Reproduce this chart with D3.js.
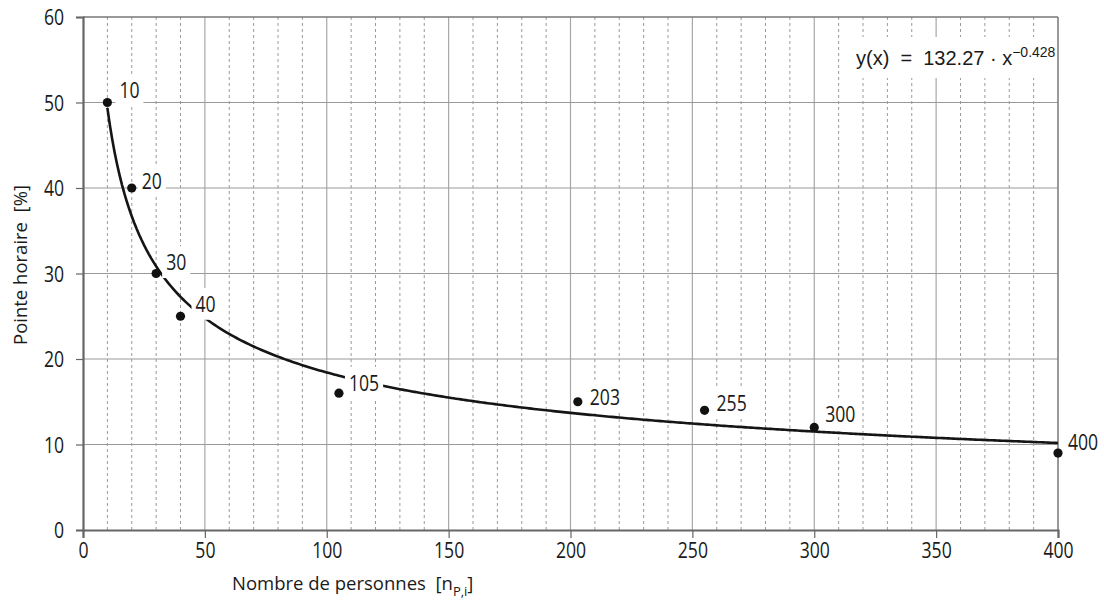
<!DOCTYPE html>
<html>
<head>
<meta charset="utf-8">
<script src="https://cdn.jsdelivr.net/npm/d3@7"></script>
<style>
  body { margin: 0; background: #fff; }
  svg { display: block; font-family: "Open Sans", "Noto Sans", sans-serif; }
</style>
</head>
<body>
<div id="chart"></div>
<script>
// data
const persons = [10, 20, 30, 40, 105, 203, 255, 300, 400];
const peak = [50, 40, 30, 25, 16, 15, 14, 12, 9];
const pointLabels = ['10', '20', '30', '40', '105', '203', '255', '300', '400'];
const xTicks = [0, 50, 100, 150, 200, 250, 300, 350, 400];
const yTicks = [0, 10, 20, 30, 40, 50, 60];
const fitA = 132.27, fitB = -0.428;

// label placement relative to each point (pixels)
const labelDx = [12, 10, 10, 15, 10, 12, 12, 11, 10];
const labelDy = [-12, -7, -11, -12, -10, -5, -7, -13, -11];

const W = 1104, H = 613;
const m = {left: 83, right: 46, top: 17, bottom: 83};
const iw = W - m.left - m.right, ih = H - m.top - m.bottom;
const NARROW = 0.8;   // digits in the original are condensed

const x = d3.scaleLinear().domain([0, 400]).range([0, iw]);
const y = d3.scaleLinear().domain([0, 60]).range([ih, 0]);

const svg = d3.select('#chart').append('svg')
    .attr('width', W).attr('height', H);
const g = svg.append('g').attr('transform', `translate(${m.left},${m.top})`);

// minor dotted verticals every 10
g.append('g').selectAll('line')
    .data(d3.range(10, 400, 10).filter(v => v % 50 !== 0))
  .enter().append('line')
    .attr('x1', d => x(d)).attr('x2', d => x(d))
    .attr('y1', 0).attr('y2', ih)
    .attr('stroke', '#9a9a9a').attr('stroke-width', 1)
    .attr('stroke-dasharray', '3,3');

// major verticals
g.append('g').selectAll('line')
    .data(xTicks.slice(1, -1))
  .enter().append('line')
    .attr('x1', d => x(d)).attr('x2', d => x(d))
    .attr('y1', 0).attr('y2', ih)
    .attr('stroke', '#a8a8a8').attr('stroke-width', 1.2);

// horizontals
g.append('g').selectAll('line')
    .data(yTicks.slice(1, -1))
  .enter().append('line')
    .attr('x1', 0).attr('x2', iw)
    .attr('y1', d => y(d)).attr('y2', d => y(d))
    .attr('stroke', '#999').attr('stroke-width', 1.2);

// frame top / right
g.append('line').attr('x1', 0).attr('x2', iw).attr('y1', 0).attr('y2', 0)
    .attr('stroke', '#777').attr('stroke-width', 1.5);
g.append('line').attr('x1', iw).attr('x2', iw).attr('y1', 0).attr('y2', ih)
    .attr('stroke', '#777').attr('stroke-width', 1.5);

// axes
const xAxis = g.append('g').attr('transform', `translate(0,${ih})`)
    .call(d3.axisBottom(x).tickValues(xTicks).tickSize(8).tickPadding(4));
const yAxis = g.append('g')
    .call(d3.axisLeft(y).tickValues(yTicks).tickSize(7).tickPadding(12));
[xAxis, yAxis].forEach(a => {
    a.select('.domain').attr('stroke', '#666').attr('stroke-width', 2.2);
    a.selectAll('.tick line').attr('stroke', '#666').attr('stroke-width', 1.2);
    a.selectAll('.tick text').attr('fill', '#1a1a1a')
        .attr('font-size', 22).attr('font-family', '"Open Sans", sans-serif')
        .attr('transform', `scale(${NARROW},1)`);
});
xAxis.selectAll('.tick line').attr('y1', 0);
yAxis.selectAll('.tick text').attr('dy', '0.36em').attr('x', -19 / NARROW);

// fitted curve
const curvePts = d3.range(10, 400.5, 1).map(v => [v, fitA * Math.pow(v, fitB)]);
g.append('path')
    .datum(curvePts)
    .attr('fill', 'none').attr('stroke', '#151515').attr('stroke-width', 2.6)
    .attr('d', d3.line().x(d => x(d[0])).y(d => y(d[1])));

// point labels with white knock-out
const lab = g.append('g').selectAll('g')
    .data(persons)
  .enter().append('g')
    .attr('transform', (d, i) => `translate(${x(d) + labelDx[i]},${y(peak[i]) + labelDy[i]}) scale(${NARROW},1)`);
lab.append('rect').attr('fill', '#fff');
lab.append('text')
    .attr('dy', '0.36em')
    .attr('font-size', 22).attr('fill', '#1a1a1a')
    .text((d, i) => pointLabels[i]);
lab.each(function() {
    const t = d3.select(this).select('text').node().getBBox();
    d3.select(this).select('rect')
        .attr('x', t.x - 5).attr('y', t.y - 1)
        .attr('width', t.width + 10).attr('height', t.height + 2);
});

// points
g.append('g').selectAll('circle')
    .data(persons)
  .enter().append('circle')
    .attr('cx', d => x(d)).attr('cy', (d, i) => y(peak[i]))
    .attr('r', 4.6).attr('fill', '#111');

// equation box
const eq = g.append('g').attr('transform', `translate(${iw - 213},20)`);
eq.append('rect').attr('width', 211).attr('height', 41).attr('fill', '#fff');
const eqText = eq.append('text')
    .attr('x', 11).attr('y', 28)
    .attr('font-family', '"Liberation Sans Narrow", "Liberation Sans", Arial, sans-serif')
    .attr('font-size', 20).attr('fill', '#1a1a1a')
    .style('white-space', 'pre');
eqText.append('tspan').text('y(x)  =  132.27 \u00b7 x');
eqText.append('tspan').attr('dy', -8).attr('font-size', 14).text('\u22120.428');

// axis titles
svg.append('text')
    .attr('transform', `translate(27,265) rotate(-90)`)
    .attr('text-anchor', 'middle')
    .attr('font-size', 18.5).attr('fill', '#1a1a1a')
    .style('white-space', 'pre')
    .text('Pointe horaire  [%]');

const xt = svg.append('text')
    .attr('x', 232).attr('y', 590)
    .attr('font-size', 18.5).attr('fill', '#1a1a1a')
    .style('white-space', 'pre');
xt.append('tspan').text('Nombre de personnes  [n');
xt.append('tspan').attr('dy', 6).attr('font-size', 13).text('P,i');
xt.append('tspan').attr('dy', -6).text(']');
</script>
</body>
</html>
